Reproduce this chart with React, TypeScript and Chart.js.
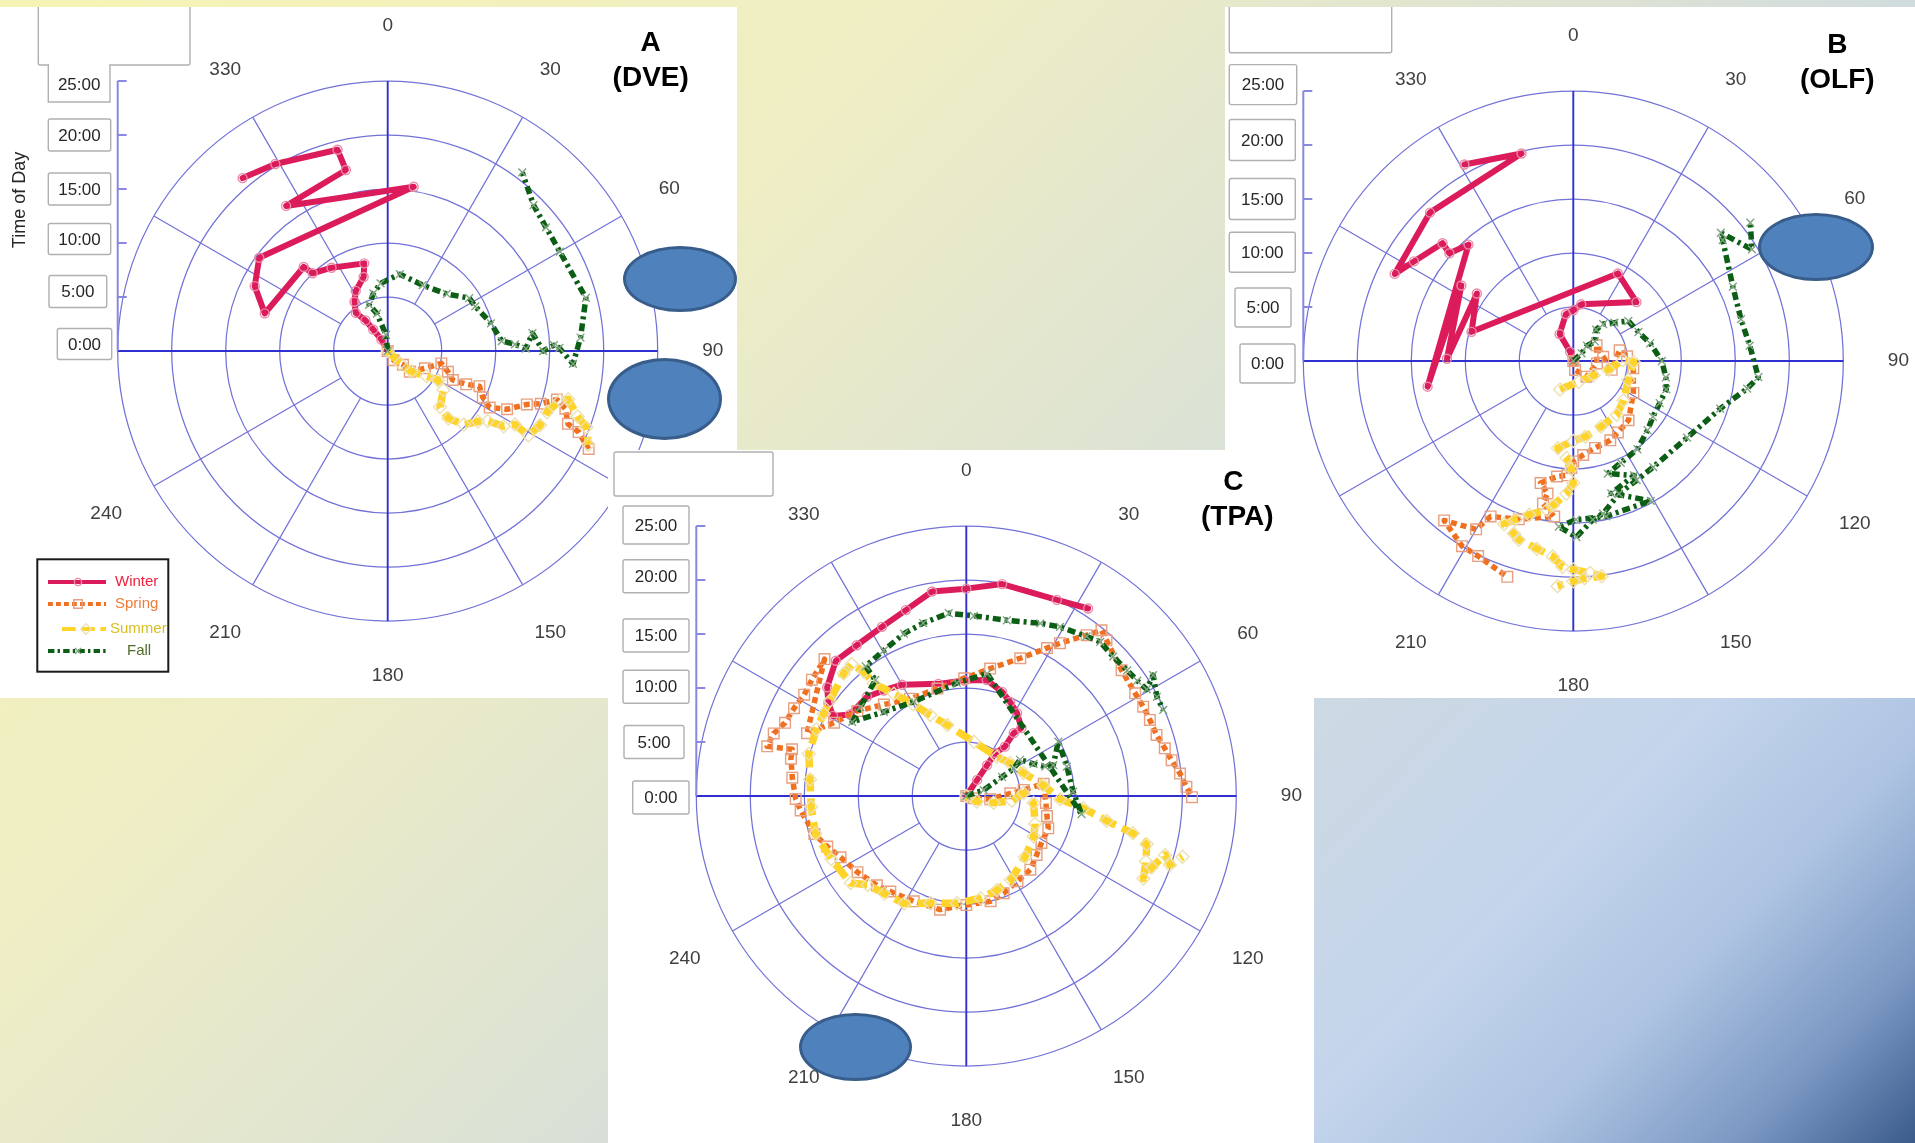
import React, { useEffect, useRef } from 'react';
import { Chart, registerables } from 'chart.js';

Chart.register(...registerables);

// ================= DATA (wind direction in degrees, time of day in hours) =================
const SEASONS = ['Winter', 'Spring', 'Summer', 'Fall'];
const RING_HOURS = [5, 10, 15, 20, 25];
const TIME_TICKS = [0, 5, 10, 15, 20, 25];
const TIME_TICK_LABELS = ['0:00', '5:00', '10:00', '15:00', '20:00', '25:00'];
const DIRECTION_LABELS = [0, 30, 60, 90, 120, 150, 180, 210, 240, 330];
const SPOKE_DIRECTIONS = [30, 60, 120, 150, 210, 240, 300, 330];
const MAX_HOUR = 25;

// ---- Panel A (DVE) ----
const A_WINTER_DIR = [0, 331, 326, 324, 320, 326, 332, 342, 345, 326, 316, 315, 287, 296, 306, 9, 325, 347, 346, 329, 320];
const A_WINTER_HOUR = [0, 1.2, 2.4, 3.5, 4.6, 5.5, 6.3, 7.2, 8.4, 9.3, 10.0, 11.0, 11.9, 13.7, 14.7, 15.4, 16.4, 17.2, 19.2, 20.2, 20.9];
const A_SPRING_DIR = [0, 148, 132, 133, 115, 103, 109, 114, 113, 111, 116, 119, 116, 111, 109, 106, 108, 112, 113, 116];
const A_SPRING_HOUR = [0, 1.0, 1.9, 2.8, 3.8, 5.1, 5.9, 6.6, 7.9, 9.1, 9.8, 10.8, 12.3, 13.8, 15.0, 16.3, 17.3, 18.0, 19.2, 20.7];
const A_SUMMER_DIR = [0, 135, 131, 123, 120, 125, 137, 138, 134, 128, 125, 123, 120, 121, 116, 111, 106, 105, 109, 111, 115];
const A_SUMMER_HOUR = [0, 1.6, 2.9, 4.3, 5.4, 6.3, 7.1, 8.4, 9.8, 10.6, 11.3, 12.8, 13.6, 15.2, 15.7, 15.8, 16.6, 17.3, 18.6, 19.7, 20.5];
const A_FALL_DIR = [0, 354, 344, 338, 346, 354, 9, 28, 46, 57, 63, 75, 85, 87, 89, 83, 90, 88, 89, 94, 86, 75, 60, 52, 45, 37];
const A_FALL_HOUR = [0, 1.5, 3.6, 4.6, 5.5, 6.3, 7.2, 6.9, 7.6, 9.0, 9.1, 9.9, 10.6, 11.8, 12.8, 13.5, 14.4, 15.4, 15.9, 17.2, 17.9, 19.0, 18.4, 18.6, 19.1, 20.7];

// ---- Panel B (OLF) ----
const B_WINTER_DIR = [0, 341, 333, 351, 0, 8, 47, 27, 286, 305, 271, 304, 260, 318, 311, 312, 302, 296, 316, 346, 331];
const B_WINTER_HOUR = [0, 0.9, 2.8, 4.4, 4.7, 5.3, 8.0, 9.1, 9.8, 10.9, 11.7, 12.5, 13.7, 14.5, 15.2, 16.3, 17.4, 18.4, 19.1, 19.8, 20.8];
const B_SPRING_DIR = [0, 169, 140, 96, 56, 82, 103, 77, 85, 97, 118, 137, 148, 155, 166, 174, 180, 181, 183, 188, 195, 191, 192, 187, 199, 208, 210, 219, 211, 206, 197];
const B_SPRING_HOUR = [0, 0.85, 1.9, 2.2, 2.6, 2.8, 3.65, 4.4, 5.0, 5.6, 6.3, 7.5, 7.8, 8.1, 8.3, 8.75, 9.3, 9.9, 10.6, 10.8, 11.7, 12.5, 13.5, 14.5, 15.5, 16.3, 18.0, 19.0, 20.0, 20.1, 20.9];
const B_SUMMER_DIR = [205, 166, 125, 104, 89, 91, 109, 128, 141, 157, 171, 180, 190, 184, 181, 180, 183, 188, 190, 196, 200, 203, 199, 197, 191, 186, 183, 180, 175.5, 172.5, 177, 180, 184];
const B_SUMMER_HOUR = [2.9, 2.0, 2.3, 3.35, 4.6, 5.6, 5.4, 5.9, 6.4, 6.6, 7.1, 7.4, 8.2, 9.0, 10.0, 11.3, 12.3, 13.5, 14.0, 14.8, 15.6, 16.4, 16.9, 17.3, 17.7, 18.2, 19.1, 19.3, 19.7, 20.1, 20.15, 20.4, 20.9];
const B_FALL_DIR = [0, 47, 42, 48, 36, 39, 47, 54, 66, 77, 90, 100, 107, 116, 125, 133, 144, 155, 163, 152, 164, 151, 168, 179, 185, 179, 173, 169, 161, 152, 143, 124, 108, 99, 95, 85, 76, 65, 51, 49, 58, 52];
const B_FALL_HOUR = [0, 1.05, 1.9, 2.7, 3.6, 4.4, 5.2, 6.3, 6.6, 7.3, 8.2, 8.7, 9.0, 8.9, 9.0, 9.4, 10.1, 10.4, 10.9, 12.0, 12.75, 14.8, 14.7, 14.7, 15.4, 16.3, 14.8, 14.4, 13.0, 12.5, 12.3, 12.7, 14.3, 16.3, 17.2, 16.4, 16.0, 16.3, 17.8, 18.1, 19.5, 20.8];

// ---- Panel C (TPA) ----
const C_WINTER_DIR = [0, 34, 34, 34, 38, 37, 39, 31.5, 25, 19, 10, 359, 346, 330, 322, 315, 305, 301, 304, 308, 316, 324, 333.5, 342, 350.5, 0, 9.6, 24.8, 33];
const C_WINTER_HOUR = [0, 1.8, 3.45, 4.8, 5.8, 7.3, 8.1, 9.0, 9.6, 10.2, 10.9, 10.7, 10.7, 11.9, 12.4, 13.0, 13.15, 14.4, 15.4, 16.35, 17.4, 17.25, 17.5, 18.1, 19.2, 19.2, 19.9, 20.0, 20.7];
const C_SPRING_DIR = [0, 107, 98, 86.5, 84, 81, 95, 104, 111.5, 122, 130, 139, 149, 159, 167, 180, 193, 206.5, 218.5, 225, 235, 244, 250, 256, 265, 269, 276, 282, 285, 284, 288, 292, 297, 302, 307, 314, 291.5, 299, 308, 318, 330, 345, 359, 10.6, 21.4, 28.6, 31.5, 36.8, 39.2, 42, 51, 58.7, 63.2, 67.5, 72.2, 76.5, 80.1, 84, 87.6, 90.3];
const C_SPRING_HOUR = [0, 0.72, 2.24, 4.08, 5.34, 7.25, 7.4, 7.7, 8.16, 8.2, 8.5, 9.04, 9.2, 9.65, 10.0, 10.1, 10.8, 10.9, 11.3, 11.7, 12.3, 12.95, 13.7, 14.5, 15.4, 15.8, 16.2, 16.6, 16.7, 19.0, 18.75, 18.1, 17.9, 17.7, 17.9, 18.25, 15.85, 14.0, 12.8, 11.4, 10.4, 10.3, 10.9, 12.0, 13.7, 15.6, 16.6, 18.6, 19.8, 19.4, 18.5, 18.3, 18.35, 18.4, 18.5, 18.9, 19.3, 19.9, 20.4, 20.9];
const C_SUMMER_DIR = [0, 118, 104, 96, 87, 96, 112, 121, 136, 152, 162, 172, 185, 198.5, 210, 220, 228, 233, 245, 256, 266, 276, 285, 294, 300, 305, 315, 319, 320.5, 320.6, 324.7, 330, 336, 345, 8, 38, 53, 68, 82, 92, 96, 100, 102.6, 105, 110, 115, 111, 106.5, 108.7, 105.7];
const C_SUMMER_HOUR = [0, 1.1, 2.6, 4.25, 5.3, 6.26, 6.87, 7.28, 7.84, 8.78, 9.16, 9.56, 9.97, 10.45, 11.5, 11.8, 12.3, 13.4, 13.8, 14.4, 14.4, 14.55, 15.1, 15.2, 15.25, 15.4, 16.05, 16.2, 14.9, 13.5, 11.6, 9.8, 8.2, 6.8, 5.07, 4.6, 5.07, 5.7, 7.2, 8.7, 10.9, 13.2, 15.8, 17.3, 17.7, 18.1, 18.4, 19.2, 19.9, 20.8];
const C_FALL_DIR = [0, 71, 62, 60, 56, 64.5, 69.6, 70.4, 59.4, 73.7, 87.7, 98.9, 9.6, 355.3, 330.8, 315.6, 303, 310, 321.9, 322.2, 330.5, 339, 346, 354.5, 2.4, 13, 23.2, 29, 37, 41, 46.5, 52, 56, 59.4, 57.1, 62.5, 66.4];
const C_FALL_HOUR = [0, 1.7, 3.75, 5.07, 6.0, 6.9, 7.8, 8.55, 9.9, 9.7, 9.9, 10.8, 11.5, 10.5, 10.0, 10.9, 12.6, 12.8, 13.65, 15.2, 15.5, 16.1, 16.5, 17.0, 16.7, 16.7, 17.4, 17.9, 18.5, 18.9, 18.75, 18.9, 19.1, 19.4, 20.6, 19.9, 19.9];

// ================= STYLES =================
const FONT = '"Liberation Sans", Arial, Helvetica, sans-serif';
const HOUR_PX = 10.8;
const GRID_COLOR = '#7272d8';
const AXIS_COLOR = '#3030d0';
const TIME_AXIS_COLOR = '#8888e0';
const BOX_BORDER = '#b0b0b0';

type SeriesStyle = {
  color: string; width: number; dash: number[]; cap: CanvasLineCap;
  point: string; pointRadius: number; pointBorder: string; legendText: string;
};
const SERIES_STYLE: SeriesStyle[] = [
  { color: '#dc1c5a', width: 6, dash: [], cap: 'round', point: 'circle', pointRadius: 4.5, pointBorder: '#e98aa6', legendText: '#f0203c' },
  { color: '#f07020', width: 5.5, dash: [6, 4], cap: 'butt', point: 'rect', pointRadius: 7.5, pointBorder: '#e8a080', legendText: '#f07b3a' },
  { color: '#ffd42a', width: 7.5, dash: [17, 7], cap: 'butt', point: 'rectRot', pointRadius: 6.5, pointBorder: '#ece0b4', legendText: '#d9bd22' },
  { color: '#0b5e14', width: 5.5, dash: [8, 4, 3, 4], cap: 'butt', point: 'crossRot', pointRadius: 5.5, pointBorder: '#80a480', legendText: '#4f6b2a' },
];

type Series = { dir: number[]; hour: number[] };
type TickBox = { x0: number; x1: number; dy: number; h: number };
type PanelCfg = {
  key: string; left: number; top: number; width: number; height: number;
  cx: number; cy: number;
  title: string[]; titlePos: number[][];
  series: Series[];
  bigBox: number[];
  tickBoxes: TickBox[];
  mergeTop: boolean; legend: boolean; yTitle: boolean;
};

const PANEL_A: PanelCfg = {
  key: 'A', left: 0, top: 7, width: 737, height: 691, cx: 387.7, cy: 351,
  title: ['A', '(DVE)'], titlePos: [[263, -308], [263, -273]],
  series: [
    { dir: A_WINTER_DIR, hour: A_WINTER_HOUR },
    { dir: A_SPRING_DIR, hour: A_SPRING_HOUR },
    { dir: A_SUMMER_DIR, hour: A_SUMMER_HOUR },
    { dir: A_FALL_DIR, hour: A_FALL_HOUR },
  ],
  bigBox: [-349.4, -400, -197.7, -286],
  tickBoxes: [
    { x0: -330.4, x1: -276, dy: -7, h: 31 },
    { x0: -338.7, x1: -281, dy: -5.5, h: 32 },
    { x0: -339.4, x1: -277, dy: -4, h: 31 },
    { x0: -339.4, x1: -277, dy: 0, h: 32 },
    { x0: -339.4, x1: -277, dy: 0, h: 32 },
    { x0: -339.4, x1: -277.7, dy: 3, h: 36 },
  ],
  mergeTop: true, legend: true, yTitle: true,
};

const PANEL_B: PanelCfg = {
  key: 'B', left: 1225, top: 7, width: 690, height: 691, cx: 1573.3, cy: 361,
  title: ['B', '(OLF)'], titlePos: [[264, -316], [264, -281]],
  series: [
    { dir: B_WINTER_DIR, hour: B_WINTER_HOUR },
    { dir: B_SPRING_DIR, hour: B_SPRING_HOUR },
    { dir: B_SUMMER_DIR, hour: B_SUMMER_HOUR },
    { dir: B_FALL_DIR, hour: B_FALL_HOUR },
  ],
  bigBox: [-344, -400, -181.6, -308.3],
  tickBoxes: [
    { x0: -333.3, x1: -278.3, dy: 2.5, h: 39 },
    { x0: -338.3, x1: -282.3, dy: 0.5, h: 39 },
    { x0: -344, x1: -278, dy: -0.7, h: 40 },
    { x0: -344, x1: -278, dy: 0, h: 41 },
    { x0: -344, x1: -278, dy: -5, h: 41 },
    { x0: -344, x1: -276.6, dy: -6.4, h: 40 },
  ],
  mergeTop: false, legend: false, yTitle: false,
};

const PANEL_C: PanelCfg = {
  key: 'C', left: 608, top: 450, width: 706, height: 693, cx: 966.3, cy: 796,
  title: ['C', '(TPA)'], titlePos: [[267, -314], [271, -279]],
  series: [
    { dir: C_WINTER_DIR, hour: C_WINTER_HOUR },
    { dir: C_SPRING_DIR, hour: C_SPRING_HOUR },
    { dir: C_SUMMER_DIR, hour: C_SUMMER_HOUR },
    { dir: C_FALL_DIR, hour: C_FALL_HOUR },
  ],
  bigBox: [-352.3, -344, -193.3, -300],
  tickBoxes: [
    { x0: -333.6, x1: -277.3, dy: 1.5, h: 33 },
    { x0: -342.3, x1: -282.3, dy: 0, h: 33 },
    { x0: -343.3, x1: -277.3, dy: -1.3, h: 33 },
    { x0: -343.3, x1: -277.3, dy: 1.5, h: 33 },
    { x0: -343.3, x1: -277.3, dy: -3.7, h: 33 },
    { x0: -343.3, x1: -277.3, dy: -1, h: 38 },
  ],
  mergeTop: false, legend: false, yTitle: false,
};

const LEGEND = { x0: -350.4, y0: 208.3, x1: -219.4, y1: 320.7, rows: [231, 253, 278, 300], sx0: -339.7, sx1: -281.7, mx: -309.7, tx: -272.7 };

const ELLIPSES = [
  { left: 623, top: 245.5, w: 113.5, h: 66 },
  { left: 607, top: 358, w: 115, h: 82 },
  { left: 1757.7, top: 212.7, w: 116, h: 68 },
  { left: 799, top: 1012.5, w: 113, h: 68.5 },
];

// ================= DRAWING HELPERS =================
function markerPath(ctx: CanvasRenderingContext2D, style: string, x: number, y: number, r: number) {
  ctx.beginPath();
  if (style === 'circle') ctx.arc(x, y, r, 0, Math.PI * 2);
  else if (style === 'rect') { const s = r * Math.SQRT1_2; ctx.rect(x - s, y - s, 2 * s, 2 * s); }
  else if (style === 'rectRot') { ctx.moveTo(x, y - r); ctx.lineTo(x + r, y); ctx.lineTo(x, y + r); ctx.lineTo(x - r, y); ctx.closePath(); }
  else { const s = r * Math.SQRT1_2; ctx.moveTo(x - s, y - s); ctx.lineTo(x + s, y + s); ctx.moveTo(x + s, y - s); ctx.lineTo(x - s, y + s); }
}

function rrect(ctx: CanvasRenderingContext2D, x0: number, y0: number, x1: number, y1: number, r: number) {
  ctx.beginPath();
  ctx.moveTo(x0 + r, y0);
  ctx.lineTo(x1 - r, y0); ctx.quadraticCurveTo(x1, y0, x1, y0 + r);
  ctx.lineTo(x1, y1 - r); ctx.quadraticCurveTo(x1, y1, x1 - r, y1);
  ctx.lineTo(x0 + r, y1); ctx.quadraticCurveTo(x0, y1, x0, y1 - r);
  ctx.lineTo(x0, y0 + r); ctx.quadraticCurveTo(x0, y0, x0 + r, y0);
  ctx.closePath();
}

function makeFramePlugin(cfg: PanelCfg) {
  return {
    id: 'polarFrame' + cfg.key,
    beforeDatasetsDraw(chart: any) {
      const ctx: CanvasRenderingContext2D = chart.ctx;
      const xs = chart.scales.x, ys = chart.scales.y;
      const cx = xs.getPixelForValue(0), cy = ys.getPixelForValue(0);
      const unit = (xs.getPixelForValue(MAX_HOUR) - cx) / MAX_HOUR;
      const pt = (h: number, deg: number) => {
        const a = (deg * Math.PI) / 180;
        return [xs.getPixelForValue(h * Math.sin(a)), ys.getPixelForValue(h * Math.cos(a))];
      };
      ctx.save();
      ctx.strokeStyle = GRID_COLOR; ctx.lineWidth = 1.25;
      for (const h of RING_HOURS) { ctx.beginPath(); ctx.arc(cx, cy, h * unit, 0, Math.PI * 2); ctx.stroke(); }
      for (const d of SPOKE_DIRECTIONS) {
        const [x1, y1] = pt(RING_HOURS[0], d); const [x2, y2] = pt(MAX_HOUR, d);
        ctx.beginPath(); ctx.moveTo(x1, y1); ctx.lineTo(x2, y2); ctx.stroke();
      }
      ctx.strokeStyle = AXIS_COLOR; ctx.lineWidth = 1.9;
      for (const d of [0, 90]) {
        const [x1, y1] = pt(MAX_HOUR, d); const [x2, y2] = pt(MAX_HOUR, d + 180);
        ctx.beginPath(); ctx.moveTo(x1, y1); ctx.lineTo(x2, y2); ctx.stroke();
      }
      const ax = xs.getPixelForValue(-MAX_HOUR);
      ctx.strokeStyle = TIME_AXIS_COLOR; ctx.lineWidth = 2;
      ctx.beginPath(); ctx.moveTo(ax, ys.getPixelForValue(MAX_HOUR)); ctx.lineTo(ax, ys.getPixelForValue(0)); ctx.stroke();
      for (const v of TIME_TICKS) {
        if (v === 0) continue;
        const y = ys.getPixelForValue(v);
        ctx.beginPath(); ctx.moveTo(ax, y); ctx.lineTo(ax + 9, y); ctx.stroke();
      }
      ctx.fillStyle = '#404040'; ctx.font = `19px ${FONT}`; ctx.textAlign = 'center'; ctx.textBaseline = 'middle';
      for (const d of DIRECTION_LABELS) { const [x, y] = pt(30.1, d); ctx.fillText(String(d), x, y); }
      ctx.lineWidth = 1.4; ctx.strokeStyle = BOX_BORDER; ctx.fillStyle = '#fff';
      const [b0, b1, b2, b3] = cfg.bigBox;
      rrect(ctx, cx + b0, cy + b1, cx + b2, cy + b3, 2); ctx.fill(); ctx.stroke();
      TIME_TICKS.forEach((v, i) => {
        const tb = cfg.tickBoxes[i];
        const yc = ys.getPixelForValue(v) + tb.dy;
        const x0 = cx + tb.x0, x1 = cx + tb.x1, y0 = yc - tb.h / 2, y1 = yc + tb.h / 2;
        ctx.strokeStyle = BOX_BORDER; ctx.fillStyle = '#fff';
        if (cfg.mergeTop && i === TIME_TICKS.length - 1) {
          const top = cy + b3;
          ctx.fillRect(x0 + 0.8, top - 2, x1 - x0 - 1.6, y1 - top + 2);
          ctx.beginPath(); ctx.moveTo(x0, top); ctx.lineTo(x0, y1); ctx.lineTo(x1, y1); ctx.lineTo(x1, top); ctx.stroke();
        } else {
          rrect(ctx, x0, y0, x1, y1, 2); ctx.fill(); ctx.stroke();
        }
        ctx.fillStyle = '#262626'; ctx.font = `17px ${FONT}`; ctx.textAlign = 'center'; ctx.textBaseline = 'middle';
        ctx.fillText(TIME_TICK_LABELS[i], (x0 + x1) / 2, yc + 1);
      });
      ctx.restore();
    },
    afterDatasetsDraw(chart: any) {
      const ctx: CanvasRenderingContext2D = chart.ctx;
      const cx = chart.scales.x.getPixelForValue(0), cy = chart.scales.y.getPixelForValue(0);
      ctx.save();
      ctx.fillStyle = '#000'; ctx.font = `bold 28px ${FONT}`; ctx.textAlign = 'center'; ctx.textBaseline = 'middle';
      cfg.title.forEach((t, i) => ctx.fillText(t, cx + cfg.titlePos[i][0], cy + cfg.titlePos[i][1]));
      if (cfg.yTitle) {
        ctx.save(); ctx.translate(cx - 367.7, cy - 151); ctx.rotate(-Math.PI / 2);
        ctx.fillStyle = '#262626'; ctx.font = `18px ${FONT}`; ctx.fillText('Time of Day', 0, 0);
        ctx.restore();
      }
      if (cfg.legend) {
        const L = LEGEND;
        ctx.fillStyle = '#fff'; ctx.strokeStyle = '#1a1a1a'; ctx.lineWidth = 2;
        ctx.fillRect(cx + L.x0, cy + L.y0, L.x1 - L.x0, L.y1 - L.y0);
        ctx.strokeRect(cx + L.x0, cy + L.y0, L.x1 - L.x0, L.y1 - L.y0);
        SEASONS.forEach((name, i) => {
          const st = SERIES_STYLE[i];
          const y = cy + L.rows[i];
          ctx.strokeStyle = st.color; ctx.lineWidth = 4; ctx.lineCap = 'butt';
          ctx.setLineDash(st.dash.map((d) => d * 0.8));
          ctx.beginPath(); ctx.moveTo(cx + L.sx0 + (i === 2 ? 14 : 0), y); ctx.lineTo(cx + L.sx1, y); ctx.stroke();
          ctx.setLineDash([]);
          ctx.strokeStyle = st.pointBorder; ctx.lineWidth = 1.4;
          markerPath(ctx, st.point, cx + L.mx + (i === 2 ? 8 : 0), y, st.pointRadius * 0.8); ctx.stroke();
          ctx.fillStyle = st.legendText; ctx.font = `15px ${FONT}`; ctx.textAlign = 'left'; ctx.textBaseline = 'middle';
          ctx.fillText(name, cx + L.tx + (i === 2 ? -5 : i === 3 ? 12 : 0), y);
        });
      }
      ctx.restore();
    },
  };
}

function PolarPanel({ cfg }: { cfg: PanelCfg }) {
  const ref = useRef<HTMLCanvasElement>(null);
  useEffect(() => {
    const canvas = ref.current;
    if (!canvas) return;
    const R = MAX_HOUR * HOUR_PX;
    const cxr = cfg.cx - cfg.left, cyr = cfg.cy - cfg.top;
    const datasets = SEASONS.map((name, i) => {
      const s = cfg.series[i]; const st = SERIES_STYLE[i];
      return {
        label: name,
        data: s.dir.map((d, k) => ({
          x: s.hour[k] * Math.sin((d * Math.PI) / 180),
          y: s.hour[k] * Math.cos((d * Math.PI) / 180),
        })),
        showLine: true,
        borderColor: st.color,
        borderWidth: st.width,
        borderDash: st.dash,
        borderCapStyle: st.cap,
        borderJoinStyle: 'round',
        backgroundColor: 'rgba(0,0,0,0)',
        fill: false,
        tension: 0,
        pointStyle: st.point,
        pointRadius: st.pointRadius,
        pointBorderColor: st.pointBorder,
        pointBorderWidth: 1.4,
        pointBackgroundColor: 'rgba(255,255,255,0)',
        clip: false,
        order: 4 - i,
      };
    });
    const chart = new Chart(canvas, {
      type: 'scatter',
      data: { datasets: datasets as any },
      options: {
        responsive: false,
        maintainAspectRatio: false,
        animation: false,
        devicePixelRatio: 1,
        events: [],
        layout: {
          padding: { left: cxr - R, right: cfg.width - (cxr + R), top: cyr - R, bottom: cfg.height - (cyr + R) },
        },
        scales: {
          x: { type: 'linear', min: -MAX_HOUR, max: MAX_HOUR, display: false },
          y: { type: 'linear', min: -MAX_HOUR, max: MAX_HOUR, display: false },
        },
        plugins: { legend: { display: false }, tooltip: { enabled: false }, title: { display: false } },
      } as any,
      plugins: [makeFramePlugin(cfg) as any],
    });
    return () => chart.destroy();
  }, [cfg]);
  return (
    <div style={{ position: 'absolute', left: cfg.left, top: cfg.top, width: cfg.width, height: cfg.height, background: '#fff', overflow: 'hidden' }}>
      <canvas ref={ref} width={cfg.width} height={cfg.height} style={{ display: 'block', width: cfg.width, height: cfg.height }} />
    </div>
  );
}

export default function App() {
  return (
    <div
      style={{
        position: 'fixed', left: 0, top: 0, width: 1915, height: 1143, overflow: 'hidden',
        background: 'linear-gradient(135deg, #f6f4b4 0%, #efeec4 30%, #dde3d3 52%, #cdd9e2 66%, #c4d5ec 79%, #aec4e2 87%, #7c99c4 94%, #3b5b8b 100%)',
      }}
    >
      <PolarPanel cfg={PANEL_A} />
      <PolarPanel cfg={PANEL_B} />
      <PolarPanel cfg={PANEL_C} />
      {ELLIPSES.map((e, i) => (
        <div
          key={i}
          style={{
            position: 'absolute', left: e.left, top: e.top, width: e.w, height: e.h, boxSizing: 'border-box',
            borderRadius: '50%', background: '#4f81bd', border: '3.5px solid #385d8a',
          }}
        />
      ))}
    </div>
  );
}
